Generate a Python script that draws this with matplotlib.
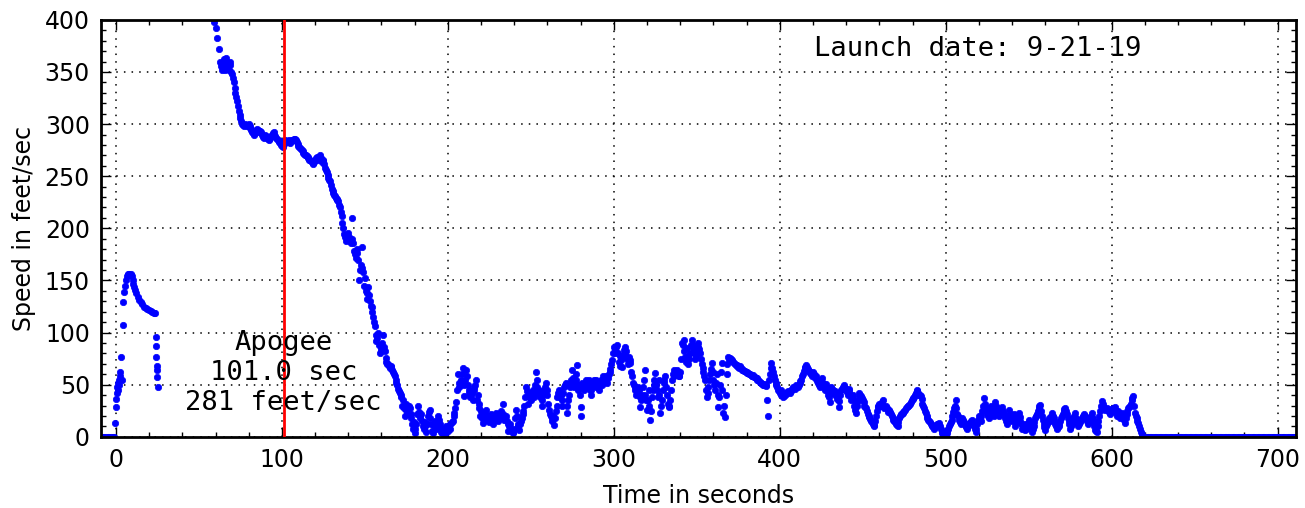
import numpy as np
import matplotlib
matplotlib.use("Agg")
import matplotlib.pyplot as plt
from matplotlib.ticker import MultipleLocator

# ---------------- data ----------------
# pad on the ground before launch
t_pad = [-8, -7, -6, -5, -4, -3, -2, -1]
v_pad = [0, 0, 0, 0, 0, 0, 0, 0]

# boost / coast until data drop-out
t_boost = [-0.5, 0.0, 0.3, 0.6, 0.9, 1.2, 1.5, 1.8, 2.1, 2.4, 2.7, 3.0, 3.5,
           4.0, 4.5, 5.0, 5.5, 6.0, 6.5, 7.0, 7.5, 8.0, 8.5, 9.0, 9.5, 10.0,
           10.5, 11.0, 11.5, 12.0, 13.0, 14.0, 15.0, 16.0, 17.0, 18.0, 19.0,
           20.0, 21.0, 22.0, 23.0, 23.5, 24.0, 24.2, 24.4, 24.6, 24.8, 25.0, 25.2]
v_boost = [13, 29, 36, 42, 48, 45, 52, 55, 50, 58, 62, 77, 55,
           107, 129, 139, 145, 150, 154, 155, 156, 156, 155, 156, 154, 150,
           147, 144, 141, 138, 134, 131, 129, 127, 125, 124, 123,
           122, 121, 120, 119, 119, 96, 87, 77, 68, 64, 57, 48]

# descent, samples on whole seconds from t = 59 s
t_desc_start = 59
v_desc = [
    398, 392, 383, 372, 360, 352, 362, 355, 360, 352, 357, 348,   # 59-70
    340, 330, 322, 313, 306, 300, 298, 300, 298, 300,             # 71-80
    296, 292, 290, 292, 295, 293, 293, 290, 287, 290,             # 81-90
    288, 285, 287, 290, 292, 289, 286, 284, 282, 279,             # 91-100
    281, 285, 283, 285, 282, 285, 285, 286, 283, 279,             # 101-110
    277, 275, 272, 270, 269, 267, 266, 264, 262, 266,             # 111-120
    268, 266, 270, 264, 266, 258, 254, 248, 245, 238,             # 121-130
    234, 231, 228, 226, 220, 212, 200, 192, 190, 196,             # 131-140
    188, 210, 186, 175, 180, 170, 160, 182, 158, 152,             # 141-150
    132, 144, 130, 125, 115, 106, 92, 100, 80, 85,                # 151-160
    98, 82, 72, 70, 66, 68, 62, 58, 52, 46,                       # 161-170
    42, 38, 35, 20, 32, 25, 28, 18, 8, 4,                         # 171-180
    12, 30, 18, 22, 10, 14, 5, 20, 26, 12,                        # 181-190
    4, 15, 8, 20, 12, 5, 8, 3, 10, 6,                             # 191-200
    12, 13, 15, 23, 33, 60, 48, 55, 66, 39,                       # 201-210
    64, 50, 45, 40, 35, 48, 55, 40, 32, 25,                       # 211-220
    13, 20, 26, 18, 16, 22, 12, 18, 23, 15,                       # 221-230
    20, 25, 32, 16, 20, 12, 10, 8, 4, 8,                          # 231-240
    26, 12, 7, 15, 22, 30, 48, 40, 38, 35,                        # 241-250
    42, 38, 62, 48, 45, 40, 35, 45, 52, 40,                       # 251-260
    26, 20, 15, 11, 25, 38, 45, 40, 35, 48,                       # 261-270
    52, 23, 40, 55, 64, 48, 55, 69, 50, 29,                       # 271-280
    52, 45, 55, 50, 55, 40, 50, 55, 48, 52,                       # 281-290
    45, 55, 50, 56, 58, 52, 60, 65, 74, 86,                       # 291-300
    80, 88, 72, 78, 67, 83, 86, 75, 77, 71,                       # 301-310
    58, 50, 45, 42, 45, 29, 40, 55, 64, 26,                       # 311-320
    45, 16, 38, 50, 61, 45, 55, 23, 35, 52,                       # 321-330
    58, 40, 29, 35, 55, 64, 60, 64, 58, 62,                       # 331-340
    90, 93, 77, 85, 70, 80, 93, 88, 75, 82,                       # 341-350
    90, 80, 70, 62, 55, 38, 48, 60, 71, 55,                       # 351-360
    45, 60, 29, 50, 71, 23, 19, 60, 77, 76,                       # 361-370
    74, 72, 70, 69, 67, 68, 65, 64, 63, 62,                       # 371-380
    61, 60, 58, 59, 57, 56, 55, 53, 52, 50,                       # 381-390
    51, 50, 20, 60, 71, 62, 55, 50, 45, 42,                       # 391-400
    45, 38, 40, 42, 44, 42, 45, 48, 46, 50,                       # 401-410
    48, 52, 55, 60, 66, 69, 65, 61, 60, 62,                       # 411-420
    58, 58, 52, 48, 55, 52, 45, 51, 40, 33,                       # 421-430
    48, 45, 40, 42, 38, 29, 45, 48, 50, 45,                       # 431-440
    40, 46, 35, 40, 30, 23, 34, 42, 39, 35,                       # 441-450
    30, 28, 22, 19, 15, 12, 11, 20, 29, 32,                       # 451-460
    30, 35, 28, 30, 26, 26, 22, 18, 15, 12,                       # 461-470
    10, 18, 22, 23, 25, 28, 30, 31, 33, 36,                       # 471-480
    38, 42, 45, 40, 39, 32, 28, 23, 18, 15,                       # 481-490
    12, 10, 8, 10, 12, 13, 8, 4, 0, 2,                            # 491-500
    6, 10, 14, 20, 28, 35, 22, 16, 12, 18,                        # 501-510
    14, 10, 8, 12, 14, 16, 10, 5, 12, 20,                         # 511-520
    15, 25, 37, 28, 22, 18, 30, 25, 20, 33,                       # 521-530
    28, 20, 25, 29, 22, 18, 12, 26, 20, 15,                       # 531-540
    22, 10, 18, 23, 15, 8, 12, 7, 10, 16,                         # 541-550
    12, 5, 10, 18, 22, 28, 31, 20, 12, 7,                         # 551-560
    12, 18, 15, 23, 18, 12, 8, 10, 15, 20,                        # 561-570
    25, 28, 22, 15, 8, 12, 18, 23, 15, 10,                        # 571-580
    14, 18, 20, 20, 15, 12, 18, 23, 14, 7,                        # 581-590
    5, 15, 25, 34, 30, 26, 28, 26, 22, 25,                        # 591-600
    28, 29, 20, 25, 18, 23, 20, 13, 22, 28,                       # 601-610
    30, 35, 39, 23, 18, 13, 8, 3, 0,                              # 611-619
]

# descent, samples on half seconds from t = 63.5 s
t_half_start = 63.5
v_half = [
    356, 358, 352, 363, 355, 360, 350,                            # 63.5-69.5
    344, 335, 326, 317, 309, 303, 299, 299, 299, 299,             # 70.5-79.5
    298, 294, 291, 291, 294, 294, 292, 292, 288, 289,             # 80.5-89.5
    289, 286, 286, 289, 291, 290, 287, 285, 283, 280,             # 90.5-99.5
    278, 284, 284, 284, 283, 284, 285, 286, 285, 281,             # 100.5-109.5
    278, 276, 274, 271, 270, 268, 266, 265, 263, 264,             # 110.5-119.5
    267, 267, 268, 267, 265, 262, 256, 251, 246, 242,             # 120.5-129.5
    236, 232, 229, 227, 222, 216, 205, 195, 188, 194,             # 130.5-139.5
    192, 186, 190, 178, 172, 176, 150, 165, 162, 145,             # 140.5-149.5
    140, 138, 136, 126, 120, 110, 98, 95, 88, 82,                 # 150.5-159.5
    90, 86, 76, 70, 68, 67, 64, 60, 55, 50,                       # 160.5-169.5
    44, 40, 30, 28, 26, 22, 30, 22, 12, 14,                       # 170.5-179.5
    8, 22, 24, 20, 15, 8, 10, 12, 24, 18,                         # 180.5-189.5
    6, 10, 12, 14, 16, 8, 4, 6, 5, 8,                             # 190.5-199.5
    10, 8, 14, 20, 28, 45, 52, 50, 60, 50,                        # 200.5-209.5
    55, 58, 42, 38, 42, 45, 50, 35, 28, 20,                       # 210.5-219.5
    18, 16, 22, 20, 14, 18, 16, 20, 18, 20,                       # 220.5-229.5
    18, 22, 20, 22, 18, 15, 6, 12, 6, 5,                          # 230.5-239.5
    18, 20, 10, 12, 18, 25, 38, 44, 32, 42,                       # 240.5-249.5
    40, 45, 50, 55, 42, 38, 30, 40, 48, 45,                       # 250.5-259.5
    32, 22, 18, 20, 18, 30, 42, 38, 30, 42,                       # 260.5-269.5
    50, 30, 35, 48, 50, 56, 52, 60, 45, 40,                       # 270.5-279.5
    20, 48, 50, 48, 52, 45, 45, 52, 50, 55,                       # 280.5-289.5
    48, 50, 52, 58, 55, 55, 56, 62, 70, 80,                       # 290.5-299.5
    84, 86, 80, 68, 74, 78, 80, 82, 70, 74,                       # 300.5-309.5
    62, 52, 48, 40, 48, 38, 35, 48, 40, 35,                       # 310.5-319.5
    35, 30, 25, 45, 55, 50, 38, 40, 30, 45,                       # 320.5-329.5
    55, 48, 32, 30, 45, 60, 58, 62, 60, 58,                       # 330.5-339.5
    75, 88, 82, 72, 78, 75, 88, 85, 80, 78,                       # 340.5-349.5
    86, 84, 75, 66, 58, 45, 42, 55, 65, 62,                       # 350.5-359.5
    50, 52, 40, 38, 62, 45, 30, 40, 70, 75,                       # 360.5-369.5
    75, 73, 71, 69, 68, 66, 66, 64, 63, 62,                       # 370.5-379.5
    61, 60, 59, 58, 57, 56, 55, 54, 52, 51,                       # 380.5-389.5
    50, 49, 35, 55, 66, 66, 58, 52, 48, 44,                       # 390.5-399.5
    40, 42, 39, 41, 43, 43, 44, 46, 47, 48,                       # 400.5-409.5
    49, 50, 54, 58, 63, 67, 67, 63, 62, 58,                       # 410.5-419.5
    60, 56, 54, 50, 52, 56, 48, 50, 45, 38,                       # 420.5-429.5
    42, 46, 42, 44, 36, 34, 40, 46, 48, 47,                       # 430.5-439.5
    43, 44, 40, 38, 35, 26, 30, 38, 40, 37,                       # 440.5-449.5
    33, 29, 25, 20, 17, 14, 10, 15, 25, 30,                       # 450.5-459.5
    31, 33, 30, 29, 28, 24, 24, 20, 16, 14,                       # 460.5-469.5
    11, 14, 20, 22, 24, 26, 29, 30, 32, 35,                       # 470.5-479.5
    37, 40, 44, 42, 40, 36, 30, 25, 20, 16,                       # 480.5-489.5
    14, 11, 9, 9, 11, 12, 10, 6, 2, 1,                            # 490.5-499.5
    4, 8, 12, 16, 24, 30, 28, 20, 14, 15,                         # 500.5-509.5
    16, 12, 9, 10, 13, 15, 12, 8, 8, 16,                          # 510.5-519.5
    18, 20, 30, 32, 25, 20, 24, 28, 22, 28,                       # 520.5-529.5
    30, 24, 22, 27, 25, 20, 15, 20, 22, 18,                       # 530.5-539.5
    18, 15, 14, 20, 19, 12, 10, 9, 8, 13,                         # 540.5-549.5
    14, 8, 8, 14, 20, 25, 30, 25, 16, 9,                          # 550.5-559.5
    10, 15, 16, 20, 20, 15, 10, 9, 12, 18,                        # 560.5-569.5
    22, 27, 25, 18, 12, 10, 15, 20, 18, 12,                       # 570.5-579.5
    12, 16, 19, 22, 18, 14, 15, 20, 18, 10,                       # 580.5-589.5
    6, 10, 20, 30, 32, 28, 27, 27, 24, 24,                        # 590.5-599.5
    27, 28, 25, 22, 22, 20, 22, 16, 18, 25,                       # 600.5-609.5
    29, 32, 37, 30, 20, 15, 10, 5, 1,                             # 610.5-618.5
]

# landed, lying on the ground
t_ground = list(range(620, 711))
v_ground = [0] * len(t_ground)

apogee_time = 101.0
apogee_speed = 281
launch_date = "9-21-19"

t_desc = [t_desc_start + i for i in range(len(v_desc))]
t_half = [t_half_start + i for i in range(len(v_half))]

# ---------------- plotting ----------------
fig = plt.figure(figsize=(13.05, 5.08), dpi=100)
ax = fig.add_axes([0.0774, 0.140, 0.9156, 0.821])

t_all = t_pad + t_boost + t_desc + t_half + t_ground
v_all = v_pad + v_boost + v_desc + v_half + v_ground
ax.plot(t_all, v_all, linestyle='none', marker='o', ms=4.6,
        color='#0000ff', mec='#0000ff', mew=0.5, zorder=2)

ax.axvline(apogee_time, color='#ff0000', lw=2.0, zorder=3)

ax.set_xlim(-9, 711)
ax.set_ylim(0, 400)
ax.xaxis.set_major_locator(MultipleLocator(100))
ax.xaxis.set_minor_locator(MultipleLocator(20))
ax.yaxis.set_major_locator(MultipleLocator(50))
ax.yaxis.set_minor_locator(MultipleLocator(10))

ax.tick_params(which='both', direction='in', top=True, right=True,
               labelsize=17, width=1.0, color='black')
ax.tick_params(which='major', length=7, pad=8)
ax.tick_params(which='minor', length=3.5)
for s in ax.spines.values():
    s.set_linewidth(2.0)

ax.grid(True, which='major', color='black', linestyle=(0, (1, 4)), lw=1.1)
ax.set_axisbelow(True)

ax.set_xlabel("Time in seconds", fontsize=17, labelpad=9)
ax.set_ylabel("Speed in feet/sec", fontsize=17, labelpad=6)

ax.text(apogee_time, 61, "Apogee\n%.1f sec\n%d feet/sec" % (apogee_time, apogee_speed),
        ha='center', va='center', family='DejaVu Sans Mono', fontsize=19.5,
        linespacing=1.2, zorder=4)
ax.text(0.597, 0.93, "Launch date: " + launch_date, transform=ax.transAxes,
        ha='left', va='center', family='DejaVu Sans Mono', fontsize=19.5)

fig.savefig("out.png", dpi=100)
